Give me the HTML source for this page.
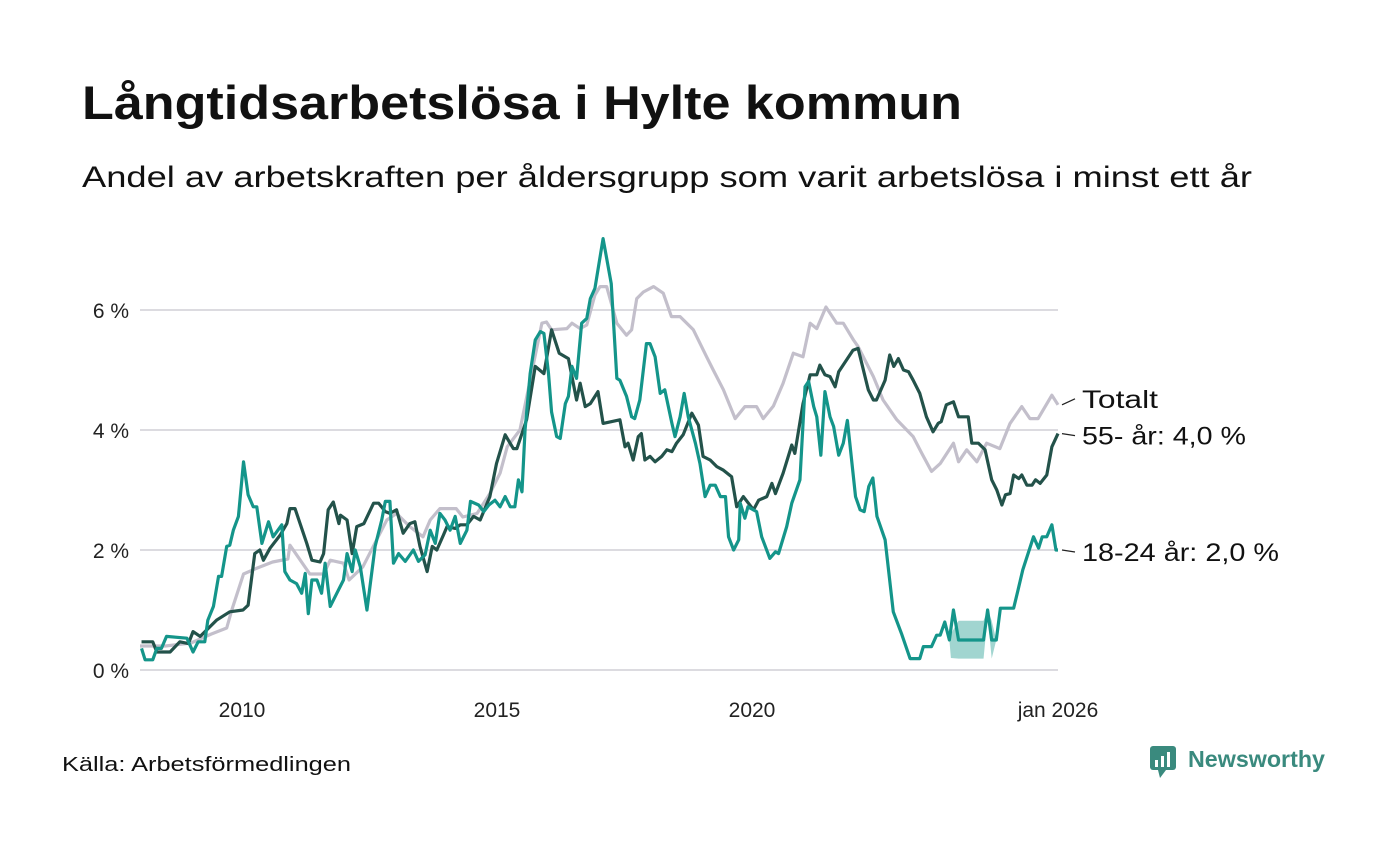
<!DOCTYPE html>
<html><head><meta charset="utf-8">
<style>
body{margin:0;background:#fff;width:1400px;height:840px;overflow:hidden;font-family:"Liberation Sans",sans-serif;}
</style></head>
<body>
<svg id="chart" width="1400" height="840" xmlns="http://www.w3.org/2000/svg">
<text x="82" y="119" font-family="Liberation Sans, sans-serif" font-weight="bold" font-size="47" fill="#111" textLength="880" lengthAdjust="spacingAndGlyphs">Långtidsarbetslösa i Hylte kommun</text>
<text x="82" y="187" font-family="Liberation Sans, sans-serif" font-size="30" fill="#111" textLength="1170" lengthAdjust="spacingAndGlyphs">Andel av arbetskraften per åldersgrupp som varit arbetslösa i minst ett år</text>
<g id="grid"></g><g id="band"></g><g id="lines"></g><g id="labels"></g>
<text x="62" y="771" font-family="Liberation Sans, sans-serif" font-size="20" fill="#111" textLength="289" lengthAdjust="spacingAndGlyphs">Källa: Arbetsförmedlingen</text>
<g>
<rect x="1150" y="746" width="26" height="24" rx="3" fill="#3a8a7e"/>
<polygon points="1158,770 1166,770 1160,778" fill="#3a8a7e"/>
<rect x="1155" y="760" width="3" height="7" fill="#fff"/><rect x="1161" y="756" width="3" height="11" fill="#fff"/><rect x="1167" y="752" width="3" height="15" fill="#fff"/>
<text x="1188" y="767" font-family="Liberation Sans, sans-serif" font-weight="bold" font-size="23" fill="#3a8a7e" textLength="137" lengthAdjust="spacingAndGlyphs">Newsworthy</text>
</g>
</svg>
<script>
const yTicks=[0,2,4,6];
const yTickLabels=["0 %","2 %","4 %","6 %"];
const xTicks=[2010,2015,2020,2026];
const xTickLabels=["2010","2015","2020","jan 2026"];
const totYears=[2008,2008.5,2009,2009.4,2009.7,2009.8,2010.03,2010.3,2010.6,2010.9,2010.94,2011.33,2011.6,2011.73,2011.99,2012.1,2012.37,2012.64,2012.84,2013.03,2013.29,2013.55,2013.69,2013.88,2014.08,2014.2,2014.33,2014.61,2014.86,2015.06,2015.2,2015.45,2015.65,2015.88,2015.97,2016.07,2016.37,2016.47,2016.63,2016.76,2016.92,2017.02,2017.15,2017.35,2017.54,2017.64,2017.74,2017.87,2018.07,2018.26,2018.42,2018.59,2018.85,2019.11,2019.24,2019.44,2019.67,2019.86,2020.09,2020.22,2020.42,2020.61,2020.81,2021.0,2021.14,2021.27,2021.45,2021.66,2021.79,2021.99,2022.08,2022.38,2022.57,2022.84,2023.16,2023.33,2023.52,2023.69,2023.95,2024.05,2024.21,2024.41,2024.6,2024.86,2025.06,2025.29,2025.45,2025.61,2025.88,2026.0];
const totVals=[0.4,0.4,0.45,0.6,0.7,1.0,1.6,1.7,1.8,1.85,2.08,1.6,1.6,1.83,1.78,1.5,1.72,2.17,2.5,2.61,2.39,2.22,2.5,2.69,2.69,2.69,2.55,2.61,2.94,3.28,3.72,4.0,4.83,5.78,5.8,5.67,5.69,5.78,5.69,5.75,6.25,6.39,6.39,5.78,5.58,5.67,6.19,6.3,6.39,6.28,5.89,5.89,5.67,5.22,5.0,4.67,4.19,4.39,4.39,4.19,4.4,4.78,5.28,5.22,5.78,5.69,6.05,5.78,5.78,5.5,5.39,4.89,4.5,4.17,3.89,3.61,3.31,3.44,3.78,3.47,3.67,3.47,3.78,3.69,4.11,4.39,4.19,4.19,4.58,4.42];
const oldYears=[2008.03,2008.25,2008.33,2008.59,2008.78,2008.95,2009.04,2009.18,2009.5,2009.76,2010.02,2010.12,2010.25,2010.35,2010.42,2010.55,2010.75,2010.88,2010.94,2011.04,2011.27,2011.37,2011.53,2011.6,2011.69,2011.79,2011.9,2011.93,2012.06,2012.16,2012.25,2012.39,2012.58,2012.68,2012.81,2012.9,2013.03,2013.16,2013.29,2013.39,2013.49,2013.63,2013.73,2013.82,2013.95,2014.02,2014.18,2014.28,2014.41,2014.54,2014.67,2014.86,2014.99,2015.16,2015.32,2015.39,2015.58,2015.75,2015.92,2016.07,2016.22,2016.4,2016.56,2016.63,2016.73,2016.83,2016.98,2017.08,2017.41,2017.51,2017.57,2017.67,2017.77,2017.83,2017.9,2018.0,2018.1,2018.23,2018.33,2018.43,2018.52,2018.65,2018.82,2018.95,2019.04,2019.18,2019.31,2019.44,2019.6,2019.7,2019.83,2020.03,2020.13,2020.29,2020.39,2020.46,2020.61,2020.78,2020.84,2021.0,2021.14,2021.27,2021.33,2021.43,2021.53,2021.63,2021.7,2021.98,2022.08,2022.28,2022.38,2022.44,2022.61,2022.7,2022.78,2022.87,2022.97,2023.07,2023.16,2023.29,2023.42,2023.55,2023.65,2023.71,2023.81,2023.95,2024.05,2024.24,2024.31,2024.44,2024.57,2024.7,2024.8,2024.9,2024.97,2025.06,2025.13,2025.23,2025.29,2025.39,2025.49,2025.56,2025.65,2025.78,2025.88,2026.0];
const oldVals=[0.47,0.47,0.3,0.3,0.47,0.44,0.64,0.56,0.83,0.97,1.0,1.08,1.94,2.0,1.83,2.03,2.25,2.44,2.69,2.69,2.11,1.83,1.8,1.94,2.67,2.8,2.44,2.58,2.5,1.94,2.39,2.44,2.78,2.78,2.64,2.61,2.67,2.28,2.44,2.47,2.06,1.64,2.06,2.0,2.25,2.39,2.36,2.42,2.42,2.56,2.5,2.89,3.44,3.92,3.69,3.69,4.17,5.06,4.94,5.67,5.28,5.19,4.5,4.78,4.39,4.44,4.64,4.11,4.17,3.72,3.78,3.5,3.89,3.94,3.5,3.56,3.47,3.56,3.67,3.64,3.78,3.92,4.28,4.08,3.56,3.5,3.39,3.33,3.22,2.72,2.89,2.67,2.83,2.89,3.11,2.94,3.28,3.75,3.61,4.44,4.92,4.92,5.08,4.92,4.89,4.72,4.97,5.33,5.36,4.67,4.5,4.5,4.83,5.25,5.06,5.19,5.0,4.97,4.83,4.61,4.22,3.97,4.11,4.14,4.42,4.47,4.22,4.22,3.78,3.78,3.67,3.17,3.0,2.75,2.92,2.94,3.25,3.19,3.25,3.08,3.08,3.17,3.11,3.25,3.72,3.94];
const youngYears=[2008.03,2008.1,2008.25,2008.33,2008.42,2008.52,2008.92,2009.04,2009.14,2009.27,2009.33,2009.44,2009.54,2009.6,2009.7,2009.76,2009.83,2009.93,2010.03,2010.12,2010.22,2010.29,2010.39,2010.52,2010.61,2010.78,2010.84,2010.94,2011.07,2011.17,2011.24,2011.3,2011.37,2011.47,2011.56,2011.63,2011.73,2011.86,2011.99,2012.06,2012.16,2012.22,2012.32,2012.45,2012.61,2012.74,2012.81,2012.9,2012.97,2013.07,2013.2,2013.36,2013.46,2013.59,2013.69,2013.79,2013.88,2013.98,2014.08,2014.18,2014.28,2014.41,2014.48,2014.64,2014.74,2014.84,2014.96,2015.06,2015.16,2015.26,2015.35,2015.42,2015.49,2015.55,2015.65,2015.75,2015.85,2015.92,2016.01,2016.07,2016.17,2016.24,2016.34,2016.4,2016.47,2016.56,2016.66,2016.76,2016.83,2016.92,2017.08,2017.24,2017.35,2017.41,2017.54,2017.64,2017.7,2017.8,2017.93,2018.0,2018.1,2018.2,2018.29,2018.43,2018.49,2018.59,2018.67,2018.75,2018.89,2018.98,2019.08,2019.18,2019.28,2019.38,2019.48,2019.54,2019.64,2019.74,2019.77,2019.86,2019.92,2020.09,2020.19,2020.35,2020.46,2020.52,2020.68,2020.78,2020.94,2021.04,2021.11,2021.21,2021.27,2021.35,2021.43,2021.53,2021.6,2021.7,2021.79,2021.87,2022.03,2022.12,2022.2,2022.29,2022.37,2022.45,2022.61,2022.77,2022.93,2023.1,2023.29,2023.36,2023.52,2023.62,2023.69,2023.78,2023.87,2023.95,2024.05,2024.54,2024.62,2024.7,2024.79,2024.87,2025.13,2025.21,2025.31,2025.52,2025.62,2025.69,2025.78,2025.88,2025.96,2026.0];
const youngVals=[0.36,0.17,0.17,0.36,0.36,0.56,0.53,0.3,0.47,0.47,0.83,1.06,1.56,1.56,2.06,2.08,2.33,2.56,3.47,2.92,2.72,2.72,2.11,2.47,2.22,2.42,1.64,1.5,1.44,1.28,1.61,0.94,1.5,1.5,1.28,1.78,1.06,1.28,1.5,1.94,1.64,2.0,1.72,1.0,2.06,2.5,2.81,2.81,1.78,1.94,1.81,2.0,1.81,1.92,2.33,2.11,2.61,2.5,2.33,2.56,2.11,2.33,2.81,2.75,2.64,2.75,2.83,2.72,2.89,2.72,2.72,3.17,2.97,4.0,4.94,5.5,5.64,5.61,4.94,4.3,3.89,3.86,4.44,4.56,5.06,4.86,5.78,5.86,6.19,6.36,7.19,6.44,4.86,4.83,4.56,4.22,4.19,4.5,5.44,5.44,5.22,4.61,4.67,4.11,3.89,4.22,4.61,4.22,3.78,3.44,2.89,3.08,3.08,2.89,2.89,2.22,2.0,2.17,2.78,2.53,2.72,2.64,2.22,1.86,1.97,1.94,2.39,2.78,3.17,4.72,4.81,4.39,4.22,3.58,4.64,4.22,4.06,3.58,3.78,4.16,2.89,2.67,2.64,3.06,3.2,2.56,2.17,0.97,0.61,0.19,0.19,0.39,0.39,0.58,0.58,0.8,0.5,1.0,0.5,0.5,1.0,0.5,0.5,1.03,1.03,1.31,1.67,2.22,2.03,2.22,2.22,2.42,2.0,2.0];
const bandYears=[2023.87,2023.9,2024.05,2024.54,2024.62,2024.7,2024.79];
const bandLow=[0.5,0.2,0.19,0.19,0.9,0.19,0.5];
const bandHigh=[0.5,0.6,0.82,0.82,1.0,0.82,0.5];

const NS="http://www.w3.org/2000/svg";
const X0=140,X1=1058,Y0=670,PXV=60;
const xs=y=>X0+(y-2008)/(2026-2008)*(X1-X0);
const ys=v=>Y0-v*PXV;
function mk(tag,attrs,parent){const e=document.createElementNS(NS,tag);for(const k in attrs)e.setAttribute(k,attrs[k]);parent.appendChild(e);return e;}
const grid=document.getElementById('grid'),lines=document.getElementById('lines'),labels=document.getElementById('labels'),band=document.getElementById('band');
yTicks.forEach((t,i)=>{
 const l=mk('line',{x1:X0,x2:X1,y1:ys(t),y2:ys(t),stroke:'#dcdbe0','stroke-width':2},grid);
 
 
 const tx=mk('text',{x:129,y:ys(t)+8,'text-anchor':'end','font-size':21,fill:'#222','font-family':'Liberation Sans, sans-serif'},grid);
 tx.textContent=yTickLabels[i];
 
 
});
xTicks.forEach((t,i)=>{
 const tx=mk('text',{x:xs(t),y:717,'text-anchor':'middle','font-size':21,fill:'#222','font-family':'Liberation Sans, sans-serif'},grid);
 tx.textContent=xTickLabels[i];
 
 
});
let bp=bandYears.map((y,i)=>xs(y)+','+ys(bandHigh[i]));
for(let i=bandYears.length-1;i>=0;i--)bp.push(xs(bandYears[i])+','+ys(bandLow[i]));
const bpoly=mk('polygon',{points:bp.join(' '),fill:'#14958a','fill-opacity':0.4},band);


function line(yrs,vals,color,name){
 const p=mk('polyline',{points:yrs.map((y,i)=>xs(y)+','+ys(vals[i])).join(' '),fill:'none',stroke:color,'stroke-width':3.2,'stroke-linejoin':'round'},lines);
 
 
}
line(totYears,totVals,'#c3bfcb','line-totalt');
line(oldYears,oldVals,'#23524a','line-55-plus');
line(youngYears,youngVals,'#14958a','line-18-24');
const labelTexts=["Totalt","55- år: 4,0 %","18-24 år: 2,0 %"];
const labelWidths=[76,164,197];
const labelVals=[totVals[totVals.length-1],oldVals[oldVals.length-1],youngVals[youngVals.length-1]];
const labelOffsets=[-6,2,2];
labelTexts.forEach((t,i)=>{
 const yy=ys(labelVals[i])+labelOffsets[i];
 const c=mk('line',{x1:1062,x2:1075,y1:ys(labelVals[i]),y2:yy,stroke:'#222','stroke-width':1.3},labels);
 
 
 const tx=mk('text',{x:1082,y:yy+9,'font-size':25,fill:'#111','font-family':'Liberation Sans, sans-serif',textLength:labelWidths[i],lengthAdjust:'spacingAndGlyphs'},labels);
 tx.textContent=t;
 
 
});
</script>
</body></html>
